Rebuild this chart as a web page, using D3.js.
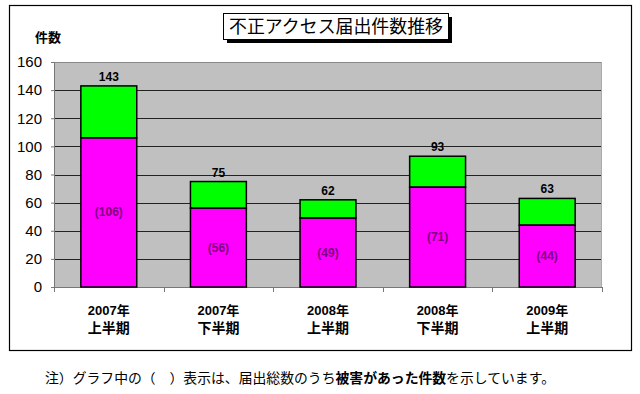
<!DOCTYPE html>
<html><head><meta charset="utf-8">
<script src="https://cdn.jsdelivr.net/npm/d3@7"></script>
<style>body{margin:0;background:#fff}svg{display:block}</style>
</head><body>
<script>
const categories = ["2007年|上半期","2007年|下半期","2008年|上半期","2008年|下半期","2009年|上半期"];
const totals = [143, 75, 62, 93, 63];
const damaged = [106, 56, 49, 71, 44];
const yTicks = [0,20,40,60,80,100,120,140,160];
const title = "不正アクセス届出件数推移";
const yLabel = "件数";

const W=640,H=394;
const svg=d3.select("body").append("svg").attr("width",W).attr("height",H);
const fontNum="Arial, 'Liberation Sans', 'Noto Sans CJK JP', sans-serif";
const fontJP="'Noto Sans CJK JP', sans-serif";

// outer border
svg.append("rect").attr("x",9.5).attr("y",5.5).attr("width",622).attr("height",345)
  .attr("fill","#fff").attr("stroke","#000").attr("stroke-width",1.2);

const L=54,R=602,T=62,B=287;
const x=d3.scaleBand().domain(categories).range([L,R]).paddingInner(0.49).paddingOuter(0.245);
const y=d3.scaleLinear().domain([0,160]).range([B,T]);

svg.append("rect").attr("x",L).attr("y",T).attr("width",R-L).attr("height",B-T).attr("fill","#c0c0c0");
// grid
svg.append("g").selectAll("line").data(yTicks.filter(d=>d>0&&d<160)).join("line")
  .attr("x1",L).attr("x2",R).attr("y1",d=>Math.round(y(d))+0.5).attr("y2",d=>Math.round(y(d))+0.5)
  .attr("stroke","#222").attr("stroke-width",1);
svg.append("line").attr("x1",L).attr("x2",R).attr("y1",T+0.5).attr("y2",T+0.5).attr("stroke","#888");
svg.append("line").attr("x1",R-0.5).attr("x2",R-0.5).attr("y1",T).attr("y2",B).attr("stroke","#aaa");

// y axis
const yAxis=svg.append("g").attr("transform",`translate(${L},0)`)
  .call(d3.axisLeft(y).tickValues(yTicks).tickSize(3).tickPadding(9));
yAxis.select(".domain").attr("stroke","#777");
yAxis.selectAll(".tick line").attr("stroke","#777");
yAxis.selectAll("text").attr("font-family",fontNum).attr("font-size",15).attr("fill","#000");

// x axis baseline + ticks between categories
svg.append("line").attr("x1",L).attr("x2",R).attr("y1",B+0.5).attr("y2",B+0.5).attr("stroke","#777");
const step=x.step();
svg.append("g").selectAll("line").data(d3.range(categories.length+1)).join("line")
  .attr("x1",i=>Math.round(L+i*step)+0.5).attr("x2",i=>Math.round(L+i*step)+0.5)
  .attr("y1",B).attr("y2",B+5).attr("stroke","#777");

// bars
const g=svg.append("g");
categories.forEach((c,i)=>{
  g.append("rect").attr("x",x(c)).attr("width",x.bandwidth())
    .attr("y",y(totals[i])).attr("height",y(damaged[i])-y(totals[i]))
    .attr("fill","#00ff00").attr("stroke","#000").attr("stroke-width",1.5);
  g.append("rect").attr("x",x(c)).attr("width",x.bandwidth())
    .attr("y",y(damaged[i])).attr("height",B-y(damaged[i]))
    .attr("fill","#ff00ff").attr("stroke","#000").attr("stroke-width",1.5);
  g.append("text").attr("x",x(c)+x.bandwidth()/2).attr("y",y(totals[i])-5)
    .attr("text-anchor","middle").attr("font-family",fontNum).attr("font-size",12).attr("font-weight","bold")
    .text(totals[i]);
  g.append("text").attr("x",x(c)+x.bandwidth()/2).attr("y",(y(damaged[i])+B)/2+4)
    .attr("text-anchor","middle").attr("font-family",fontNum).attr("font-size",12).attr("font-weight","bold")
    .attr("fill","#800080").text("("+damaged[i]+")");
  const parts=c.split("|");
  g.append("text").attr("x",x(c)+x.bandwidth()/2).attr("y",315)
    .attr("text-anchor","middle").attr("font-family",fontNum).attr("font-size",13).attr("font-weight","bold")
    .text(parts[0]);
  g.append("text").attr("x",x(c)+x.bandwidth()/2).attr("y",333)
    .attr("text-anchor","middle").attr("font-family",fontJP).attr("font-size",14).attr("font-weight","bold")
    .text(parts[1]);
});

// y label
svg.append("text").attr("x",35).attr("y",42).attr("font-family",fontJP).attr("font-size",13).attr("font-weight","bold").text(yLabel);

// title box with shadow
svg.append("rect").attr("x",227).attr("y",17).attr("width",225).attr("height",26).attr("fill","#000");
svg.append("rect").attr("x",223.5).attr("y",13.5).attr("width",225).attr("height",26).attr("fill","#fff").attr("stroke","#000").attr("stroke-width",1);
svg.append("text").attr("x",336).attr("y",33).attr("text-anchor","middle").attr("font-family",fontJP)
  .attr("font-size",18).attr("textLength",214).attr("lengthAdjust","spacingAndGlyphs").text(title);

// footnote
const fn=svg.append("text").attr("x",45).attr("y",383).attr("font-family",fontJP).attr("font-size",13.5)
  .attr("textLength",510).attr("lengthAdjust","spacingAndGlyphs");
fn.append("tspan").text("注）グラフ中の（　）表示は、届出総数のうち");
fn.append("tspan").attr("font-weight","bold").text("被害があった件数");
fn.append("tspan").text("を示しています。");
</script>
</body></html>
